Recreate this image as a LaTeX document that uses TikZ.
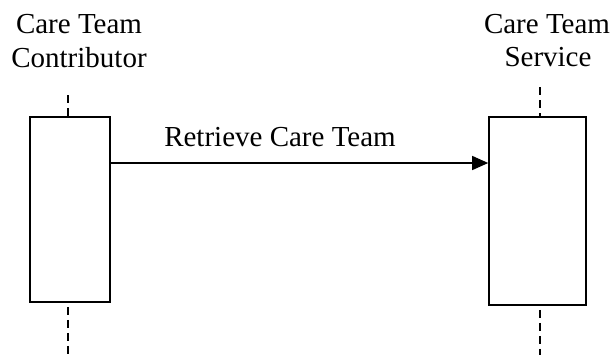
\documentclass[tikz,border=0pt]{standalone}
\usepackage{fontspec}
\setmainfont{Liberation Serif}
\usetikzlibrary{arrows.meta}
\begin{document}
\begin{tikzpicture}[x=1pt,y=-1pt,
  lbl/.style={font=\fontsize{29}{34}\selectfont, inner sep=0pt, anchor=base, align=center},
  actbox/.style={draw, line width=1.6pt, inner sep=0pt, minimum width=#1},
  lifeline/.style={line width=1.8pt, dash pattern=on 8pt off 5pt},
  msg/.style={line width=1.4pt, -{Triangle[length=16pt,width=14pt]}}]
\useasboundingbox (0,0) rectangle (614,362);
% labels
\node[lbl] (l1) at (79,33) {Care Team};
\node[lbl] (l2) at (79,67) {Contributor};
\node[lbl] (r1) at (547,33) {Care Team};
\node[lbl] (r2) at (548,66) {Service};
% boxes
\node[actbox=80pt, minimum height=185pt] (lbox) at (70,209.5) {};
\node[actbox=97pt, minimum height=188pt] (rbox) at (537.5,211) {};
% lifelines
\coordinate (lt) at (68,95);
\coordinate (lb) at (68,357);
\coordinate (rt) at (540,87);
\coordinate (rb) at (540,355);
\draw[lifeline] (lt) -- (lt |- lbox.north);
\draw[lifeline] (lt |- lbox.south) ++(0,4) -- (lb);
\draw[lifeline] (rt) -- (rt |- rbox.north);
\draw[lifeline] (rt |- rbox.south) ++(0,4) -- (rb);
% message
\coordinate (my) at (0,163);
\draw[msg] (lbox.east |- my) -- (rbox.west |- my);
\node[lbl] (m) at (280,146) {Retrieve Care Team};
\end{tikzpicture}
\end{document}
